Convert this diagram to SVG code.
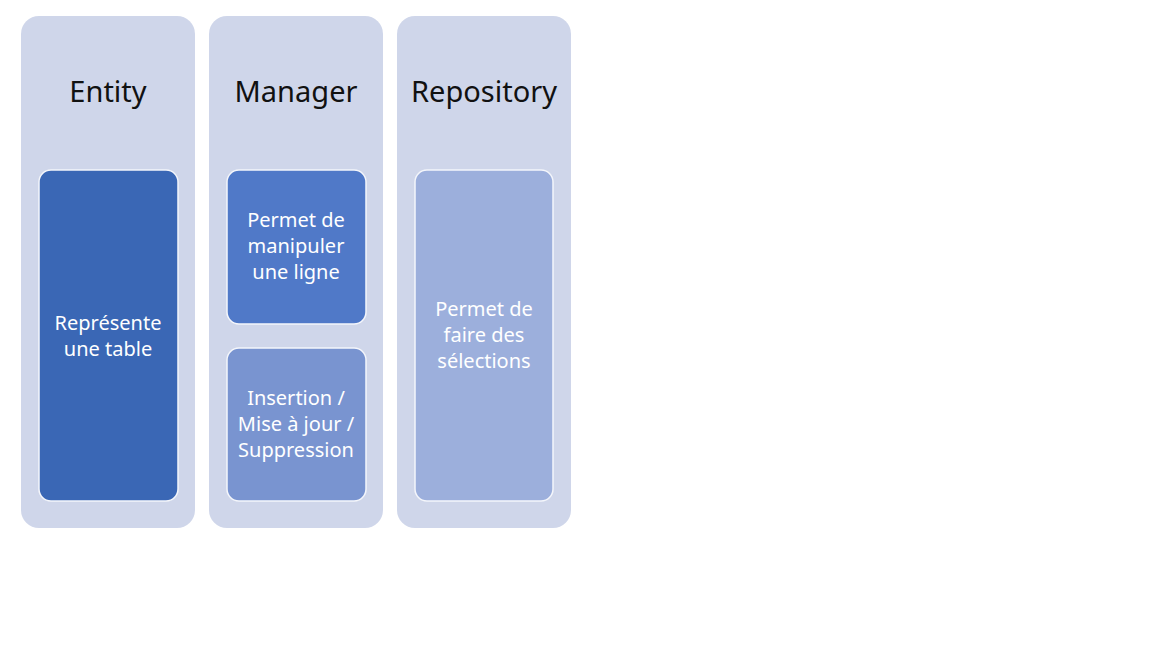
<svg xmlns="http://www.w3.org/2000/svg" width="1152" height="648" viewBox="0 0 1152 648">
<style>
.col{fill:#CFD6EA;}
.inner{stroke:#F4F6FB;stroke-width:1.5;}
.title{font-family:"Noto Sans","Open Sans",sans-serif;font-size:29px;fill:#111;text-anchor:middle;}
.lbl{font-family:"Noto Sans","Open Sans",sans-serif;font-size:20px;fill:#FFFFFF;text-anchor:middle;}
</style>
<rect width="1152" height="648" fill="#FFFFFF"/>
<g id="entity">
<rect class="col" x="21" y="16" width="174" height="512" rx="18"/>
<text class="title" x="108" y="102">Entity</text>
<rect class="inner" x="39" y="170" width="139" height="331" rx="12" fill="#3A67B5"/>
<text class="lbl" x="108" y="330">Représente</text>
<text class="lbl" x="108" y="356">une table</text>
</g>
<g id="manager">
<rect class="col" x="209" y="16" width="174" height="512" rx="18"/>
<text class="title" x="296" y="102">Manager</text>
<rect class="inner" x="227" y="170" width="139" height="154" rx="12" fill="#5079C8"/>
<text class="lbl" x="296" y="227">Permet de</text>
<text class="lbl" x="296" y="253">manipuler</text>
<text class="lbl" x="296" y="279">une ligne</text>
<rect class="inner" x="227" y="348" width="139" height="153" rx="12" fill="#7994D0"/>
<text class="lbl" x="296" y="405">Insertion /</text>
<text class="lbl" x="296" y="431">Mise à jour /</text>
<text class="lbl" x="296" y="457">Suppression</text>
</g>
<g id="repository">
<rect class="col" x="397" y="16" width="174" height="512" rx="18"/>
<text class="title" x="484" y="102">Repository</text>
<rect class="inner" x="415" y="170" width="138" height="331" rx="12" fill="#9CAFDC"/>
<text class="lbl" x="484" y="316">Permet de</text>
<text class="lbl" x="484" y="342">faire des</text>
<text class="lbl" x="484" y="368">sélections</text>
</g>
<g id="connectors"></g>
</svg>
